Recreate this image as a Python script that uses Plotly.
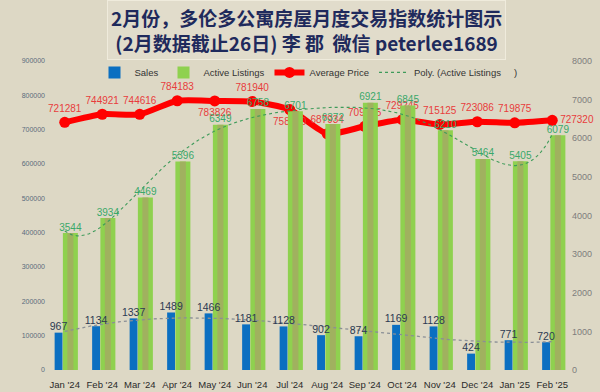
import numpy as np
import plotly.graph_objects as go

months = ["Jan '24", "Feb '24", "Mar '24", "Apr '24", "May '24", "Jun '24", "Jul '24",
          "Aug '24", "Sep '24", "Oct '24", "Nov '24", "Dec '24", "Jan '25", "Feb '25"]
sales = [967, 1134, 1337, 1489, 1466, 1181, 1128, 902, 874, 1169, 1128, 424, 771, 720]
active = [3544, 3934, 4469, 5396, 6349, 6758, 6701, 6372, 6921, 6845, 6210, 5464, 5405, 6079]
price = [721281, 744921, 744616, 784183, 783826, 781940, 758640, 687934, 709885, 729245,
         715125, 723086, 719875, 727320]
price_pos = ["top center"] * 4 + ["bottom center", "top center", "bottom center"] + \
            ["top center"] * 6 + ["middle right"]

BG = "#ddd8c5"
FONT = "Liberation Sans, Arial, sans-serif"
x = np.arange(len(months))
xs = np.linspace(0, len(months) - 1, 200)
act_fit = np.polyval(np.polyfit(x, active, 6), xs)
sal_fit = np.polyval(np.polyfit(x, sales, 3), xs)

fig = go.Figure()
fig.add_trace(go.Bar(x=x, y=sales, width=0.21, offset=-0.27, yaxis="y2",
                     marker=dict(color="#0b6fc1", line=dict(width=0)),
                     name="Sales", legendrank=1))
fig.add_trace(go.Bar(x=x, y=active, width=0.40, offset=-0.05, yaxis="y2",
                     marker=dict(color="#8fd14f", line=dict(width=0)),
                     name="Active Listings", legendrank=2))
fig.add_trace(go.Bar(x=x, y=active, width=0.16, offset=0.07, yaxis="y2",
                     marker=dict(color="rgba(163,172,98,0.85)", line=dict(width=0)),
                     showlegend=False, hoverinfo="skip"))
# trendlines
fig.add_trace(go.Scatter(x=xs, y=sal_fit, yaxis="y2", mode="lines",
                         line=dict(color="#8a8f96", width=1.3, dash="dot"),
                         showlegend=False, hoverinfo="skip"))
fig.add_trace(go.Scatter(x=xs, y=act_fit, yaxis="y2", mode="lines",
                         line=dict(color="#3e9b5a", width=1.1, dash="dot"),
                         name="Poly. (Active Listings     )", legendrank=4))
# labels
fig.add_trace(go.Scatter(x=x - 0.165, y=sales, yaxis="y2", mode="text",
                         text=[str(v) for v in sales], textposition="top center",
                         textfont=dict(size=10.5, color="#2c3a52", family=FONT),
                         showlegend=False, hoverinfo="skip"))
fig.add_trace(go.Scatter(x=x + 0.15, y=active, yaxis="y2", mode="text",
                         text=[str(v) for v in active], textposition="top center",
                         textfont=dict(size=10, color="#3aa86a", family=FONT),
                         showlegend=False, hoverinfo="skip"))
# price line
fig.add_trace(go.Scatter(x=x, y=price, yaxis="y", mode="lines+markers+text",
                         line=dict(color="#ff0000", width=6, shape="spline", smoothing=0.6),
                         marker=dict(color="#ff0000", size=11),
                         text=[str(v) for v in price], textposition=price_pos,
                         textfont=dict(size=10, color="#e83c3c", family=FONT),
                         cliponaxis=False,
                         name="Average Price", legendrank=3))

fig.update_layout(
    width=600, height=392,
    margin=dict(l=46, r=29, t=61, b=22, autoexpand=False),
    paper_bgcolor=BG, plot_bgcolor=BG,
    barmode="overlay",
    font=dict(family=FONT, color="#333333"),
    xaxis=dict(range=[-0.5, len(months) - 0.5], tickvals=list(x), ticktext=months,
               showgrid=False, zeroline=False, showline=False, ticks="", tickangle=0,
               automargin=False, ticklabelstandoff=7,
               tickfont=dict(size=9.5, color="#2a2a2a", family=FONT)),
    yaxis=dict(range=[0, 900000], dtick=100000, showgrid=False, zeroline=False,
               automargin=False,
               tickfont=dict(size=7, color="#5b6b7c", family=FONT), tickformat="d"),
    yaxis2=dict(range=[0, 8000], dtick=1000, overlaying="y", side="right",
                showgrid=False, zeroline=False, automargin=False,
                tickfont=dict(size=9, color="#7d7d7d", family=FONT), tickformat="d"),
    legend=dict(orientation="h", x=0.50, xanchor="center", y=1.01, yanchor="top",
                bgcolor="rgba(0,0,0,0)", font=dict(size=9.5, color="#333333", family=FONT),
                traceorder="normal"),
    showlegend=True,
)
fig.add_annotation(
    xref="paper", yref="paper", x=0.497, y=1.10, xanchor="center", yanchor="middle",
    text="<b>2月份，多伦多公寓房屋月度交易指数统计图示<br>(2月数据截止26日) 李 郡  微信 peterlee1689</b>",
    showarrow=False, align="center",
    font=dict(family="Noto Sans CJK SC", size=19, color="#1f2a5c"),
    bgcolor="#e1dccb", bordercolor="#efebdc", borderwidth=1, borderpad=3,
)
fig.write_html("out.html", config={"displayModeBar": False},
               post_script="document.body.style.margin='0';document.body.style.overflow='hidden';")
